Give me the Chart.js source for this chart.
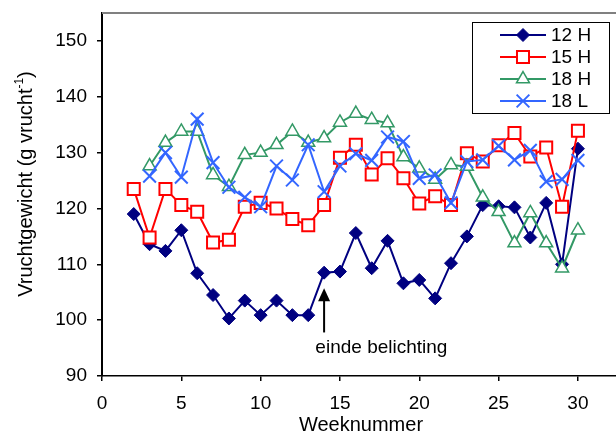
<!DOCTYPE html>
<html>
<head>
<meta charset="utf-8">
<script src="https://cdn.jsdelivr.net/npm/chart.js@4.4.1/dist/chart.umd.min.js"></script>
<style>
  html, body { margin: 0; padding: 0; background: #fff; overflow: hidden; }
  #wrap { width: 616px; height: 434px; position: relative; }
</style>
</head>
<body>
<div id="wrap"><canvas id="fruitChart"></canvas></div>
<script>
// weeknummers en vruchtgewicht per behandeling
const weeks = [2, 3, 4, 5, 6, 7, 8, 9, 10, 11, 12, 13, 14, 15, 16, 17, 18, 19, 20, 21, 22, 23, 24, 25, 26, 27, 28, 29, 30];
const h12 = [119.0, 113.6, 112.4, 116.1, 108.4, 104.5, 100.3, 103.5, 100.9, 103.5, 100.9, 100.9, 108.5, 108.7, 115.6,
    109.3, 114.2, 106.6, 107.2, 103.9, 110.2, 115.0, 120.6, 120.4, 120.2, 114.8, 121.0, 110.0, 130.7];
const h15 = [123.5, 114.8, 123.5, 120.6, 119.4, 113.9, 114.4, 120.3, 121.0, 120.0, 118.1, 117.0, 120.6, 129.1, 131.4,
    126.1, 129.0, 125.4, 120.9, 122.2, 120.6, 129.9, 128.4, 131.3, 133.5, 129.3, 130.9, 120.3, 133.9];
const h18 = [null, 127.6, 131.8, 133.8, 133.8, 126.0, 123.9, 129.6, 130.0, 131.4, 133.8, 131.8, 132.6, 135.4, 137.0,
    135.9, 135.3, 129.2, 127.2, 125.2, 127.8, 127.5, 122.0, 119.4, 113.8, 119.2, 113.8, 109.3, 116.1];
const l18 = [null, 125.8, 130.0, 125.6, 136.0, 128.2, 123.8, 122.0, 120.3, 127.6, 125.1, 131.4, 123.0, 127.6, 129.8,
    128.6, 132.8, 132.0, 125.4, 126.0, 121.0, 128.4, 128.7, 131.2, 128.7, 130.4, 124.8, 125.2, 128.6];
const seriesNames = ['12 H', '15 H', '18 H', '18 L'];
const xTicks = [0, 5, 10, 15, 20, 25, 30];
const yTicks = [90, 100, 110, 120, 130, 140, 150];
const noteWeek = 14;
const noteText = 'einde belichting';

const FONT = '"Liberation Sans", Arial, sans-serif';

function toPoints(vals) {
    return weeks.map((w, i) => ({ x: w, y: vals[i] }));
}

// eigen marker tekenen (voor de legenda)
function drawMarker(ctx, ds, x, y) {
    const r = ds.pointRadius;
    ctx.save();
    ctx.lineWidth = ds.pointBorderWidth;
    ctx.strokeStyle = ds.pointBorderColor;
    ctx.fillStyle = ds.pointBackgroundColor;
    ctx.beginPath();
    if (ds.pointStyle === 'rectRot') {
        ctx.moveTo(x, y - r); ctx.lineTo(x + r, y); ctx.lineTo(x, y + r); ctx.lineTo(x - r, y); ctx.closePath();
        ctx.fill(); ctx.stroke();
    } else if (ds.pointStyle === 'rect') {
        const s = r * Math.SQRT1_2;
        ctx.rect(x - s, y - s, 2 * s, 2 * s);
        ctx.fill(); ctx.stroke();
    } else if (ds.pointStyle === 'triangle') {
        ctx.moveTo(x, y - r);
        ctx.lineTo(x + r * Math.sin(Math.PI / 3), y + r / 2);
        ctx.lineTo(x - r * Math.sin(Math.PI / 3), y + r / 2);
        ctx.closePath();
        ctx.fill(); ctx.stroke();
    } else {
        const s = r * Math.SQRT1_2;
        ctx.moveTo(x - s, y - s); ctx.lineTo(x + s, y + s);
        ctx.moveTo(x + s, y - s); ctx.lineTo(x - s, y + s);
        ctx.stroke();
    }
    ctx.restore();
}

const extrasPlugin = {
    id: 'extras',
    beforeDatasetsDraw(chart) {
        const ctx = chart.ctx;
        const a = chart.chartArea;
        ctx.save();
        ctx.strokeStyle = '#808080';
        ctx.lineWidth = 2;
        ctx.beginPath();
        ctx.moveTo(a.left, a.top);
        ctx.lineTo(a.right, a.top);
        ctx.stroke();
        ctx.restore();
    },
    afterDraw(chart) {
        const ctx = chart.ctx;
        const xs = chart.scales.x;
        const ys = chart.scales.y;
        ctx.save();

        // aswaarden titels
        ctx.fillStyle = '#000';
        ctx.font = '20px ' + FONT;
        ctx.textAlign = 'center';
        ctx.textBaseline = 'alphabetic';
        ctx.fillText('Weeknummer', 361, 431);

        ctx.save();
        ctx.translate(32, 184);
        ctx.rotate(-Math.PI / 2);
        const main = 'Vruchtgewicht (g vrucht';
        ctx.font = '20px ' + FONT;
        const wMain = ctx.measureText(main).width;
        ctx.font = '12px ' + FONT;
        const wSup = ctx.measureText('-1').width;
        ctx.font = '20px ' + FONT;
        const wEnd = ctx.measureText(')').width;
        let px = -(wMain + wSup + wEnd) / 2;
        ctx.textAlign = 'left';
        ctx.fillText(main, px, 0);
        px += wMain;
        ctx.font = '12px ' + FONT;
        ctx.fillText('-1', px, -9);
        px += wSup;
        ctx.font = '20px ' + FONT;
        ctx.fillText(')', px, 0);
        ctx.restore();

        // pijl + tekst
        const ax = xs.getPixelForValue(noteWeek);
        const tipY = ys.getPixelForValue(105.7);
        const baseY = ys.getPixelForValue(97.8);
        ctx.strokeStyle = '#000';
        ctx.lineWidth = 2;
        ctx.beginPath();
        ctx.moveTo(ax, baseY);
        ctx.lineTo(ax, tipY + 10);
        ctx.stroke();
        ctx.fillStyle = '#000';
        ctx.beginPath();
        ctx.moveTo(ax, tipY);
        ctx.lineTo(ax + 6, tipY + 13);
        ctx.lineTo(ax - 6, tipY + 13);
        ctx.closePath();
        ctx.fill();
        ctx.font = '19px ' + FONT;
        ctx.textAlign = 'left';
        ctx.fillText(noteText, xs.getPixelForValue(13.45), ys.getPixelForValue(94.1));

        // legenda
        const bx = 472, by = 22, bw = 137, bh = 91;
        ctx.fillStyle = '#fff';
        ctx.fillRect(bx, by, bw, bh);
        ctx.strokeStyle = '#000';
        ctx.lineWidth = 1;
        ctx.strokeRect(bx + 0.5, by + 0.5, bw, bh);
        ctx.font = '19px ' + FONT;
        ctx.textBaseline = 'middle';
        chart.data.datasets.forEach((ds, i) => {
            const ry = 35 + i * 22;
            ctx.strokeStyle = ds.borderColor;
            ctx.lineWidth = ds.borderWidth;
            ctx.beginPath();
            ctx.moveTo(500, ry);
            ctx.lineTo(546, ry);
            ctx.stroke();
            drawMarker(ctx, ds, 523, ry);
            ctx.fillStyle = '#000';
            ctx.fillText(ds.label, 551, ry + 1);
        });
        ctx.restore();
    }
};

const colors = ['#000080', '#FF0000', '#339966', '#3366FF'];

const datasets = [
    { label: seriesNames[0], data: toPoints(h12), borderColor: colors[0], borderWidth: 2,
      pointStyle: 'rectRot', pointRadius: 6.5, pointBackgroundColor: colors[0], pointBorderColor: colors[0], pointBorderWidth: 1, order: 4 },
    { label: seriesNames[1], data: toPoints(h15), borderColor: colors[1], borderWidth: 2,
      pointStyle: 'rect', pointRadius: 8.5, pointBackgroundColor: '#fff', pointBorderColor: colors[1], pointBorderWidth: 2, order: 3 },
    { label: seriesNames[2], data: toPoints(h18), borderColor: colors[2], borderWidth: 2,
      pointStyle: 'triangle', pointRadius: 7.5, pointBackgroundColor: '#fff', pointBorderColor: colors[2], pointBorderWidth: 1.5, order: 2 },
    { label: seriesNames[3], data: toPoints(l18), borderColor: colors[3], borderWidth: 2,
      pointStyle: 'crossRot', pointRadius: 9, pointBackgroundColor: colors[3], pointBorderColor: colors[3], pointBorderWidth: 2, order: 1 }
];
datasets.forEach(ds => { ds.tension = 0; ds.fill = false; ds.pointHoverRadius = ds.pointRadius; ds.clip = false; });

new Chart(document.getElementById('fruitChart'), {
    type: 'line',
    data: { datasets: datasets },
    options: {
        responsive: true,
        maintainAspectRatio: false,
        animation: false,
        devicePixelRatio: 1,
        layout: { autoPadding: false, padding: { top: 13, right: 0, left: 0, bottom: 0 } },
        plugins: { legend: { display: false }, tooltip: { enabled: false } },
        scales: {
            x: {
                type: 'linear',
                min: 0,
                max: 32.4,
                afterBuildTicks: s => { s.ticks = xTicks.map(v => ({ value: v })); },
                afterFit: s => { s.height = 58; s.paddingLeft = 0; s.paddingRight = 0; },
                grid: { drawOnChartArea: false, drawTicks: true, tickLength: 5, color: '#000', lineWidth: 1.5 },
                border: { color: '#000', width: 1.5 },
                ticks: { color: '#000', padding: 11, maxRotation: 0, font: { family: FONT, size: 19 } }
            },
            y: {
                min: 90,
                max: 155,
                afterBuildTicks: s => { s.ticks = yTicks.map(v => ({ value: v })); },
                afterFit: s => { s.width = 102; s.paddingTop = 0; s.paddingBottom = 0; },
                grid: { drawOnChartArea: false, drawTicks: true, tickLength: 5, color: '#000', lineWidth: 1.5 },
                border: { color: '#000', width: 2 },
                ticks: { color: '#000', padding: 10, font: { family: FONT, size: 19 } }
            }
        }
    },
    plugins: [extrasPlugin]
});
</script>
</body>
</html>
